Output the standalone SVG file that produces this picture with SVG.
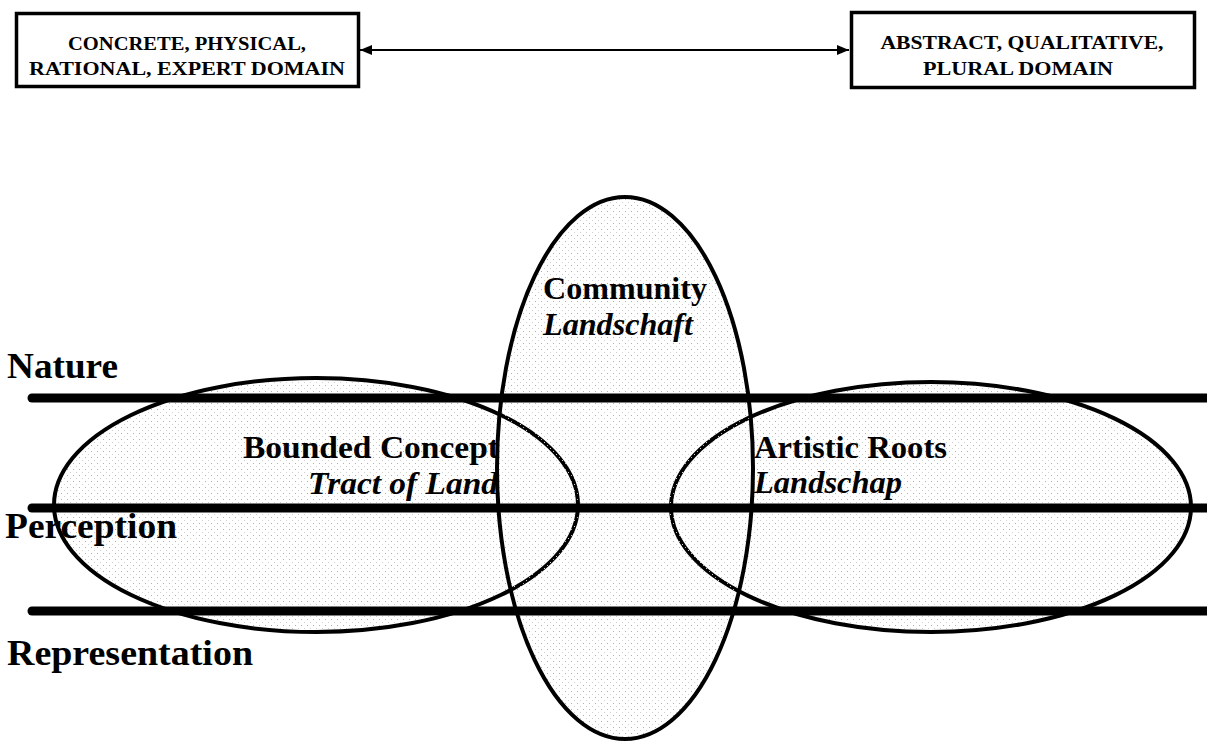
<svg xmlns="http://www.w3.org/2000/svg" width="1207" height="741" viewBox="0 0 1207 741">
<style>
.box{fill:#fff;stroke:#000;stroke-width:3.5}
.bt{font-family:"Liberation Serif","Times New Roman",serif;font-weight:bold;font-size:19px;fill:#000;text-anchor:middle}
.ell{fill:url(#stip);stroke:#000;stroke-width:4}
.band{stroke:#000;stroke-width:9;stroke-linecap:round;fill:none}
.lab{font-family:"Liberation Serif","Times New Roman",serif;font-weight:bold;font-size:36px;fill:#000}
.t{font-family:"Liberation Serif","Times New Roman",serif;font-weight:bold;font-size:31px;fill:#000}
.it{font-style:italic}
.conn{stroke:#000;stroke-width:1.8;fill:none}
</style>
<defs>
<pattern id="stip" width="6" height="6" patternUnits="userSpaceOnUse">
<rect x="1" y="1" width="1" height="1" fill="#b0b0b0"/>
<rect x="4" y="4" width="1" height="1" fill="#d0d0d0"/>
</pattern>
<marker id="ah" viewBox="0 0 12 10" refX="12" refY="5" markerWidth="12" markerHeight="10" markerUnits="userSpaceOnUse" orient="auto-start-reverse">
<path d="M0,0 L12,5 L0,10 Z" fill="#000"/>
</marker>
</defs>
<rect width="1207" height="741" fill="#fff"/>

<g id="concrete">
<rect class="box" x="16.5" y="13.5" width="342" height="73"/>
<text class="bt" x="187" y="50" textLength="238" lengthAdjust="spacingAndGlyphs">CONCRETE, PHYSICAL,</text>
<text class="bt" x="187" y="75" textLength="316" lengthAdjust="spacingAndGlyphs">RATIONAL, EXPERT DOMAIN</text>
</g>

<g id="abstract">
<rect class="box" x="851.5" y="12.5" width="343" height="75"/>
<text class="bt" x="1022" y="49" textLength="283" lengthAdjust="spacingAndGlyphs">ABSTRACT, QUALITATIVE,</text>
<text class="bt" x="1018" y="75" textLength="190" lengthAdjust="spacingAndGlyphs">PLURAL DOMAIN</text>
</g>

<g id="connectors">
<line class="conn" x1="360" y1="50" x2="849" y2="50" marker-start="url(#ah)" marker-end="url(#ah)"/>
</g>

<g id="ellipses">
<ellipse id="bounded" class="ell" cx="316" cy="505" rx="262" ry="127"/>
<ellipse id="artistic" class="ell" cx="931" cy="507" rx="260" ry="125"/>
<ellipse id="community" class="ell" cx="625" cy="468" rx="128" ry="271"/>
</g>

<g id="bands">
<line class="band" x1="32" y1="398" x2="1215" y2="398"/>
<line class="band" x1="32" y1="508" x2="1215" y2="508"/>
<line class="band" x1="32" y1="611" x2="1215" y2="611"/>
</g>

<g id="levels">
<text class="lab" x="7" y="378" textLength="111" lengthAdjust="spacingAndGlyphs">Nature</text>
<text class="lab" x="5" y="538" textLength="172" lengthAdjust="spacingAndGlyphs">Perception</text>
<text class="lab" x="7" y="665" textLength="246" lengthAdjust="spacingAndGlyphs">Representation</text>
</g>

<g id="bounded-label">
<text class="t" x="243" y="458" textLength="256" lengthAdjust="spacingAndGlyphs">Bounded Concept</text>
<text class="t it" x="308" y="494" textLength="190" lengthAdjust="spacingAndGlyphs">Tract of Land</text>
</g>

<g id="artistic-label">
<text class="t" x="754" y="458" textLength="193" lengthAdjust="spacingAndGlyphs">Artistic Roots</text>
<text class="t it" x="754" y="493" textLength="148" lengthAdjust="spacingAndGlyphs">Landschap</text>
</g>

<g id="community-label">
<text class="t" x="543" y="299" textLength="164" lengthAdjust="spacingAndGlyphs">Community</text>
<text class="t it" x="543" y="335" textLength="150" lengthAdjust="spacingAndGlyphs">Landschaft</text>
</g>
</svg>
